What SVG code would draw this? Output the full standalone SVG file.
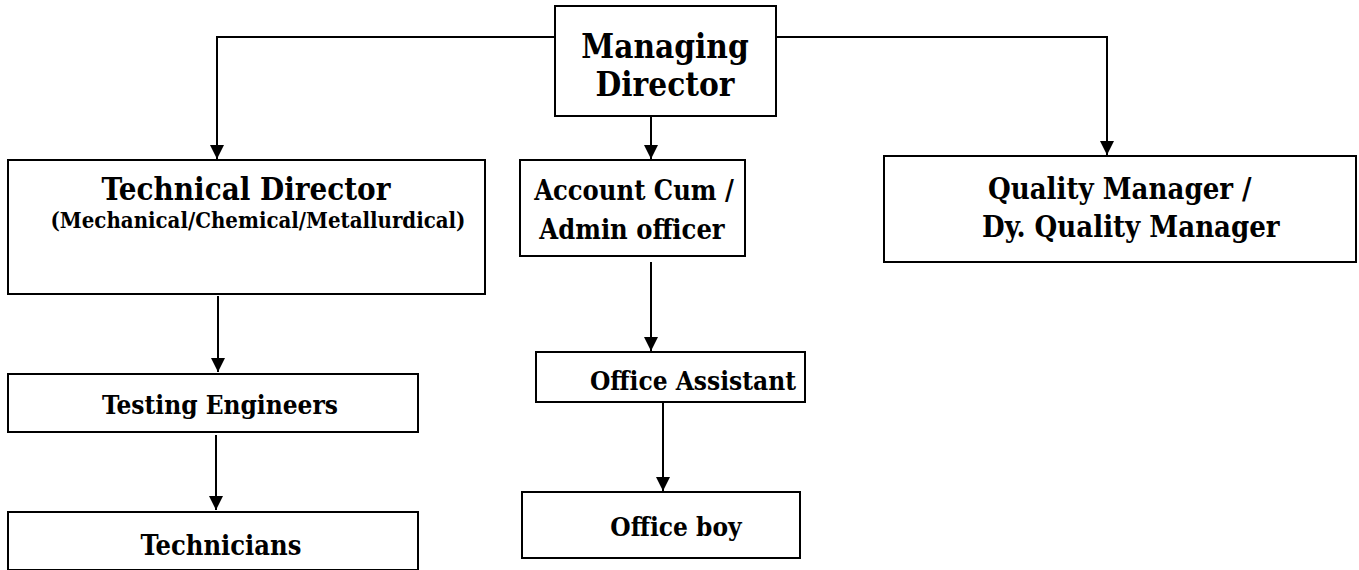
<svg xmlns="http://www.w3.org/2000/svg" width="1359" height="570" viewBox="0 0 1359 570">
<defs>
<marker id="arr" markerWidth="14" markerHeight="14" refX="14" refY="7" orient="auto" markerUnits="userSpaceOnUse">
<path d="M0,0 L14,7 L0,14 Z" fill="#000"/>
</marker>
<style>
.box{fill:#fff;stroke:#000;stroke-width:2}
.t{font-family:"DejaVu Serif Condensed","DejaVu Serif",serif;font-stretch:condensed;font-weight:bold;fill:#000;text-anchor:middle}
.s{text-anchor:start}
.c{fill:none;stroke:#000;stroke-width:2}
</style>
</defs>
<rect width="1359" height="570" fill="#fff"/>
<g id="connectors">
<path class="c" d="M555,37 H217 V159" marker-end="url(#arr)"/>
<path class="c" d="M776,37 H1107 V155" marker-end="url(#arr)"/>
<path class="c" d="M651,116 V159" marker-end="url(#arr)"/>
<path class="c" d="M218,296 V372" marker-end="url(#arr)"/>
<path class="c" d="M216,435 V510" marker-end="url(#arr)"/>
<path class="c" d="M651,262 V351" marker-end="url(#arr)"/>
<path class="c" d="M663,402 V491" marker-end="url(#arr)"/>
</g>
<g id="managing-director">
<rect class="box" x="555" y="6" width="221" height="110"/>
<text class="t" x="665" y="58" font-size="33">Managing</text>
<text class="t" x="665" y="96" font-size="33">Director</text>
</g>
<g id="technical-director">
<rect class="box" x="8" y="160" width="477" height="134"/>
<text class="t" x="246" y="200" font-size="31">Technical Director</text>
<text class="t" x="258" y="228" font-size="22">(Mechanical/Chemical/Metallurdical)</text>
</g>
<g id="account-admin">
<rect class="box" x="520" y="160" width="225" height="96"/>
<text class="t" x="634" y="200" font-size="27">Account Cum /</text>
<text class="t" x="632" y="239" font-size="27">Admin officer</text>
</g>
<g id="quality-manager">
<rect class="box" x="884" y="156" width="472" height="106"/>
<text class="t s" x="988" y="199" font-size="29">Quality Manager /</text>
<text class="t s" x="982" y="237" font-size="29">Dy. Quality Manager</text>
</g>
<g id="testing-engineers">
<rect class="box" x="8" y="374" width="410" height="58"/>
<text class="t" x="220" y="414" font-size="26">Testing Engineers</text>
</g>
<g id="technicians">
<rect class="box" x="8" y="512" width="410" height="58"/>
<text class="t" x="221" y="555" font-size="27">Technicians</text>
</g>
<g id="office-assistant">
<rect class="box" x="536" y="352" width="269" height="50"/>
<text class="t" x="693" y="390" font-size="26">Office Assistant</text>
</g>
<g id="office-boy">
<rect class="box" x="522" y="492" width="278" height="66"/>
<text class="t" x="676" y="536" font-size="26">Office boy</text>
</g>
</svg>
